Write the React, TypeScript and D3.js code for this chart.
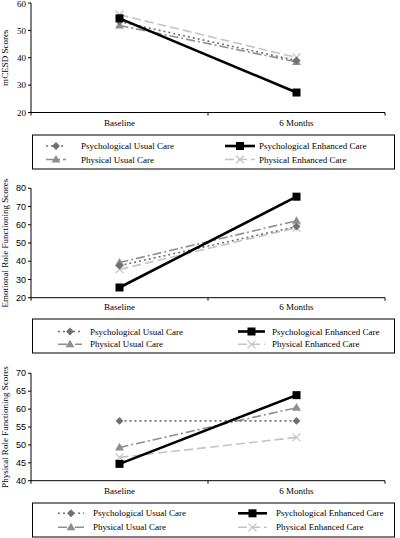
import React from "react";
import * as d3 from "d3";

const categories = ["Baseline", "6 Months"];
const seriesNames = [
  "Psychological Usual Care",
  "Psychological Enhanced Care",
  "Physical Usual Care",
  "Physical Enhanced Care",
];

// Panel 1: mCESD
const cesdPsychUsual = [53.2, 39.0];
const cesdPsychEnhanced = [54.4, 27.3];
const cesdPhysUsual = [51.8, 38.5];
const cesdPhysEnhanced = [55.7, 40.1];
const cesdTicks = [20, 30, 40, 50, 60];

// Panel 2: Emotional Role Functioning
const emoPsychUsual = [37.6, 59.0];
const emoPsychEnhanced = [25.6, 75.4];
const emoPhysUsual = [39.3, 62.2];
const emoPhysEnhanced = [35.5, 58.4];
const emoTicks = [20, 30, 40, 50, 60, 70, 80];

// Panel 3: Physical Role Functioning
const physPsychUsual = [56.7, 56.7];
const physPsychEnhanced = [44.7, 63.9];
const physPhysUsual = [49.3, 60.4];
const physPhysEnhanced = [46.5, 52.1];
const physTicks = [40, 45, 50, 55, 60, 65, 70];

type Style = {
  color: string;
  width: number;
  dash: string;
  marker: "diamond" | "square" | "triangle" | "x";
};

const styles: Style[] = [
  { color: "#707070", width: 1.6, dash: "2,3", marker: "diamond" },
  { color: "#000000", width: 2.6, dash: "", marker: "square" },
  { color: "#8e8e8e", width: 1.6, dash: "9,3,2,3", marker: "triangle" },
  { color: "#c4c4c4", width: 1.6, dash: "9,4", marker: "x" },
];

const SERIF = "'Liberation Serif', 'Times New Roman', serif";
const SANS = "'Liberation Sans', Arial, sans-serif";

function Marker({ s, x, y }: { s: Style; x: number; y: number }) {
  if (s.marker === "square") {
    return <rect x={x - 4} y={y - 4} width={8} height={8} fill={s.color} />;
  }
  if (s.marker === "diamond") {
    return (
      <rect
        x={-2.8}
        y={-2.8}
        width={5.6}
        height={5.6}
        fill={s.color}
        transform={`translate(${x},${y}) rotate(45)`}
      />
    );
  }
  if (s.marker === "triangle") {
    const sym = d3.symbol(d3.symbolTriangle, 34)();
    return <path d={sym || ""} transform={`translate(${x},${y + 0.5})`} fill={s.color} />;
  }
  return (
    <g stroke={s.color} strokeWidth={1.2}>
      <line x1={x - 4} y1={y - 4} x2={x + 4} y2={y + 4} />
      <line x1={x - 4} y1={y + 4} x2={x + 4} y2={y - 4} />
    </g>
  );
}

type PanelProps = {
  top: number;
  bottom: number;
  domain: [number, number];
  ticks: number[];
  series: number[][];
  title: string;
  tickFont: string;
  labelY: number;
  legend: {
    top: number;
    bottom: number;
    rows: [number, number];
    leftLine: [number, number];
    leftText: number;
    rightLine: [number, number];
    rightText: number;
  };
};

const AX_LEFT = 31;
const AX_RIGHT = 385;

function Panel(p: PanelProps) {
  const x = d3.scaleBand<string>().domain(categories).range([AX_LEFT, AX_RIGHT]);
  const y = d3.scaleLinear().domain(p.domain).range([p.bottom, p.top]);
  const cx = (c: string) => (x(c) as number) + x.bandwidth() / 2;
  const line = d3
    .line<number>()
    .x((_, i) => cx(categories[i]))
    .y((v) => y(v));
  const order = [3, 2, 0, 1];
  const bounds = [AX_LEFT, ...categories.map((c) => (x(c) as number) + x.bandwidth())];
  const lg = p.legend;
  const cols = [
    { line: lg.leftLine, text: lg.leftText },
    { line: lg.rightLine, text: lg.rightText },
  ];
  return (
    <g>
      <line x1={AX_LEFT} y1={p.top} x2={AX_LEFT} y2={p.bottom} stroke="#000" strokeWidth={1} />
      <line x1={AX_LEFT} y1={p.bottom} x2={AX_RIGHT} y2={p.bottom} stroke="#000" strokeWidth={1} />
      {p.ticks.map((t) => (
        <g key={t}>
          <line x1={AX_LEFT - 3} x2={AX_LEFT} y1={y(t)} y2={y(t)} stroke="#000" />
          <text
            x={AX_LEFT - 5}
            y={Math.max(y(t), 4)}
            dy="0.35em"
            textAnchor="end"
            fontFamily={p.tickFont}
            fontSize={9}
            fill="#000"
          >
            {t}
          </text>
        </g>
      ))}
      {bounds.map((b, i) => (
        <line key={i} x1={b} x2={b} y1={p.bottom} y2={p.bottom + 3} stroke="#000" />
      ))}
      {categories.map((c) => (
        <text
          key={c}
          x={cx(c)}
          y={p.labelY}
          textAnchor="middle"
          fontFamily={SERIF}
          fontSize={9}
          fill="#000"
        >
          {c}
        </text>
      ))}
      <text
        transform={`translate(8,${(p.top + p.bottom) / 2}) rotate(-90)`}
        textAnchor="middle"
        fontFamily={SERIF}
        fontSize={9}
        fill="#000"
      >
        {p.title}
      </text>
      {order.map((si) => {
        const s = styles[si];
        return (
          <g key={si}>
            <path
              d={line(p.series[si]) || ""}
              fill="none"
              stroke={s.color}
              strokeWidth={s.width}
              strokeDasharray={s.dash}
            />
            {p.series[si].map((v, i) => (
              <Marker key={i} s={s} x={cx(categories[i])} y={y(v)} />
            ))}
          </g>
        );
      })}
      <rect
        x={32.5}
        y={lg.top}
        width={362}
        height={lg.bottom - lg.top}
        fill="none"
        stroke="#000"
        strokeWidth={1}
      />
      {seriesNames.map((name, i) => {
        const col = cols[i % 2];
        const ry = lg.rows[Math.floor(i / 2)];
        const s = styles[i];
        const mx = (col.line[0] + col.line[1]) / 2;
        return (
          <g key={name}>
            <line
              x1={col.line[0]}
              x2={col.line[1]}
              y1={ry}
              y2={ry}
              stroke={s.color}
              strokeWidth={s.width}
              strokeDasharray={s.dash}
            />
            <Marker s={s} x={mx} y={ry} />
            <text
              x={col.text}
              y={ry}
              dy="0.35em"
              fontFamily={SERIF}
              fontSize={9}
              fill="#000"
            >
              {name}
            </text>
          </g>
        );
      })}
    </g>
  );
}

export default function App() {
  return (
    <svg
      width={400}
      height={538}
      style={{ position: "absolute", left: 0, top: 0, background: "#fff" }}
    >
      <rect width={400} height={538} fill="#fff" />
      <Panel
        top={3}
        bottom={112.5}
        domain={[20, 60]}
        ticks={cesdTicks}
        series={[cesdPsychUsual, cesdPsychEnhanced, cesdPhysUsual, cesdPhysEnhanced]}
        title="mCESD Scores"
        tickFont={SERIF}
        labelY={126}
        legend={{
          top: 135,
          bottom: 169,
          rows: [146, 159.5],
          leftLine: [46, 66],
          leftText: 81,
          rightLine: [225, 255],
          rightText: 259,
        }}
      />
      <Panel
        top={188.3}
        bottom={297.7}
        domain={[20, 80]}
        ticks={emoTicks}
        series={[emoPsychUsual, emoPsychEnhanced, emoPhysUsual, emoPhysEnhanced]}
        title="Emotional Role Functioning Scores"
        tickFont={SANS}
        labelY={310}
        legend={{
          top: 319,
          bottom: 353,
          rows: [331.5, 344.3],
          leftLine: [58, 82],
          leftText: 90,
          rightLine: [238, 265],
          rightText: 272,
        }}
      />
      <Panel
        top={373.3}
        bottom={480.7}
        domain={[40, 70]}
        ticks={physTicks}
        series={[physPsychUsual, physPsychEnhanced, physPhysUsual, physPhysEnhanced]}
        title="Physical Role Functioning Scores"
        tickFont={SANS}
        labelY={494}
        legend={{
          top: 503,
          bottom: 537,
          rows: [513.3, 527.3],
          leftLine: [58, 84],
          leftText: 93,
          rightLine: [238, 267],
          rightText: 276,
        }}
      />
    </svg>
  );
}
